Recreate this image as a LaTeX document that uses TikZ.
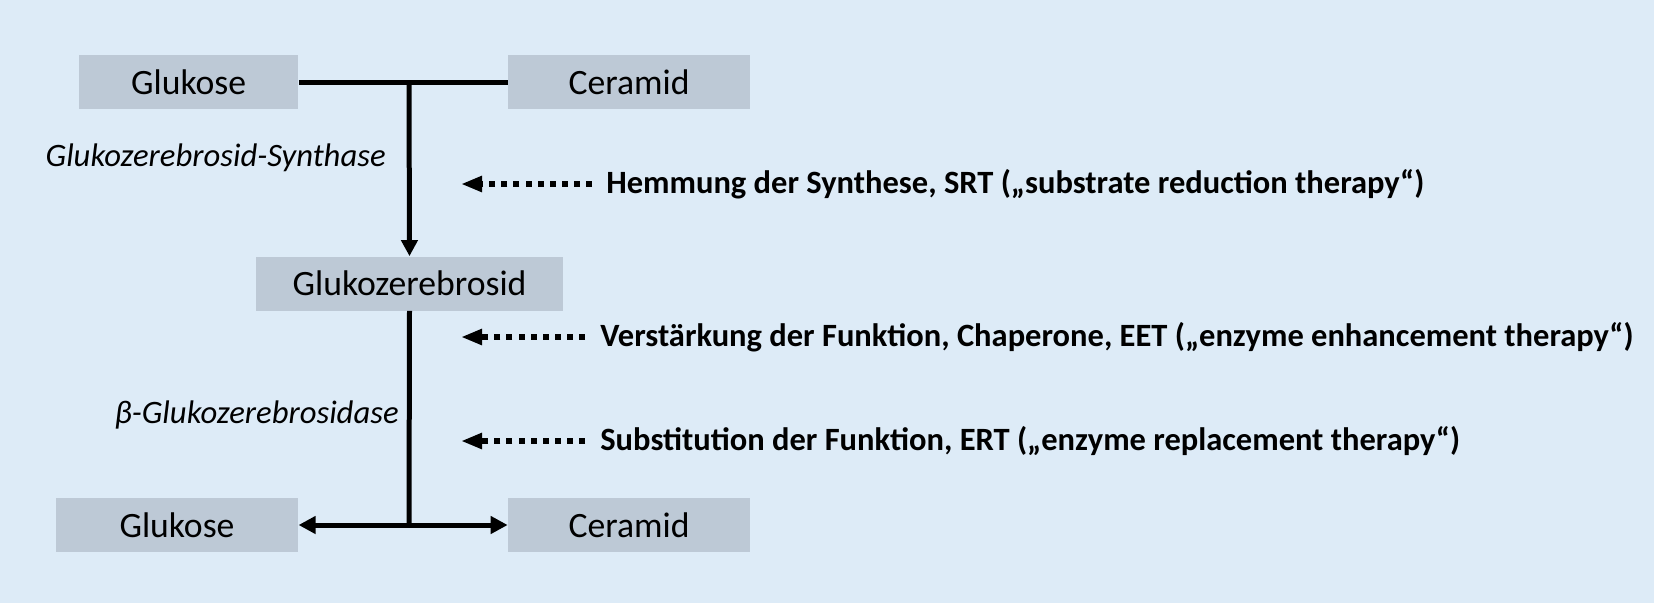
\documentclass[tikz,border=0pt]{standalone}
\usepackage{fontspec}
\setmainfont{Carlito}
\usetikzlibrary{arrows.meta,calc}
\definecolor{bgblue}{HTML}{DDEBF7}
\definecolor{boxgray}{HTML}{BDC9D6}
\tikzset{
  substbox/.style={fill=boxgray, inner sep=0pt, minimum height=1.08cm, font=\fontsize{20.3}{24}\selectfont},
  enzlabel/.style={inner sep=0pt, font=\fontsize{18.6}{22}\selectfont\itshape},
  therlabel/.style={inner sep=0pt, anchor=west, font=\fontsize{18.5}{22}\selectfont\bfseries},
  flow/.style={line width=0.1cm, black},
  flowarrow/.style={flow, -{Triangle[length=0.34cm, width=0.34cm]}},
  inhib/.style={line width=0.12cm, dash pattern=on 0.12cm off 0.122cm, -{Triangle[length=0.42cm, width=0.3cm]}},
}
\begin{document}
\begin{tikzpicture}[x=0.02cm, y=-0.02cm]
  \fill[bgblue] (0,0) rectangle (1654,603);
  \useasboundingbox (0,0) rectangle (1654,603);
  % boxes
  \node[substbox, minimum width=4.39cm] (glu1) at (188.7,82) {Glukose};
  \node[substbox, minimum width=4.84cm] (cer1) at (629,82) {Ceramid};
  \node[substbox, minimum width=6.14cm] (gcb) at (409.5,283.5) {Glukozerebrosid};
  \node[substbox, minimum width=4.85cm] (glu2) at (177,525) {Glukose};
  \node[substbox, minimum width=4.84cm] (cer2) at (629,525) {Ceramid};
  % coordinates
  \coordinate (top) at (409,82);
  \coordinate (bot) at (409,525);
  % connectors
  \draw[flow] (glu1.east) -- (cer1.west);
  \draw[flow, -{Triangle[length=0.32cm, width=0.32cm]}] (top) -- (gcb.north);
  \draw[flow] (gcb.south) -- (bot);
  \draw[flowarrow] ([xshift=0.05cm]bot) -- (glu2.east);
  \draw[flowarrow] ([xshift=-0.05cm]bot) -- (cer2.west);
  % enzyme labels
  \node[enzlabel, anchor=east] (syn) at (386,158) {Glukozerebrosid-Synthase};
  \node[enzlabel, anchor=east] (gcase) at (399,415) {β-Glukozerebrosidase};
  % therapy labels
  \node[therlabel] (srt) at (606,184) {Hemmung der Synthese, SRT („substrate reduction therapy“)};
  \node[therlabel] (eet) at (600,337) {Verstärkung der Funktion, Chaperone, EET („enzyme enhancement therapy“)};
  \node[therlabel] (ert) at (600,441) {Substitution der Funktion, ERT („enzyme replacement therapy“)};
  \coordinate (t1) at (461,184);
  \coordinate (t2) at (461,337);
  \coordinate (t3) at (461,441);
  \draw[inhib] ($(srt.west)+(-14,0)$) -- (t1);
  \draw[inhib] ($(eet.west)+(-15,0)$) -- (t2);
  \draw[inhib] ($(ert.west)+(-15,0)$) -- (t3);
\end{tikzpicture}
\end{document}
